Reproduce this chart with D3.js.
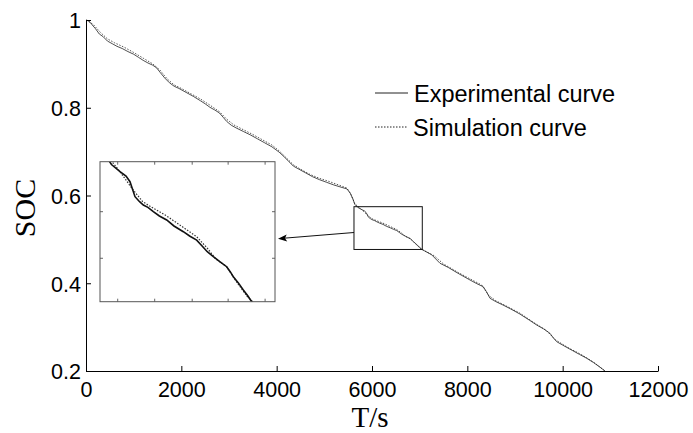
<!DOCTYPE html>
<html>
<head>
<meta charset="utf-8">
<script src="https://cdn.jsdelivr.net/npm/d3@7"></script>
<style>
  html, body { margin: 0; padding: 0; background: #fff; }
  svg { display: block; }
  text { font-family: "Liberation Sans", Arial, Helvetica, sans-serif; fill: #000; }
</style>
</head>
<body>
<svg id="chart" width="693" height="433"></svg>
<script>
// ---------------- data ----------------
const timeExp = [0, 60, 120, 200, 280, 360, 450, 550, 650, 760, 880, 1000, 1100, 1200, 1300, 1400, 1480, 1560, 1650, 1750,
  1850, 1950, 2100, 2250, 2400, 2500, 2600, 2700, 2800, 2880, 2950, 3050, 3150, 3300, 3450, 3600, 3750, 3900, 4050, 4150,
  4250, 4350, 4450, 4600, 4750, 4900, 5050, 5200, 5350, 5474, 5540, 5600, 5638, 5700, 5782, 5840, 5878, 5926, 5970, 6006,
  6050, 6102, 6160, 6230, 6300, 6390, 6450, 6518, 6570, 6620, 6678, 6740, 6806, 6840, 6870, 6920, 6966, 7010, 7046, 7100,
  7250, 7427, 7600, 7800, 8056, 8200, 8335, 8400, 8476, 8600, 8748, 8900, 9100, 9300, 9455, 9600, 9734, 9800, 9875, 10000,
  10200, 10350, 10504, 10650, 10780, 10888];
const socExp = [1.000, 0.998, 0.990, 0.980, 0.968, 0.962, 0.952, 0.946, 0.940, 0.935, 0.928, 0.922, 0.915, 0.908, 0.902, 0.897, 0.891, 0.880, 0.868, 0.857,
  0.849, 0.844, 0.835, 0.826, 0.816, 0.809, 0.801, 0.795, 0.788, 0.778, 0.769, 0.760, 0.754, 0.746, 0.738, 0.729, 0.720, 0.711, 0.699, 0.689,
  0.678, 0.667, 0.661, 0.652, 0.643, 0.636, 0.630, 0.624, 0.619, 0.615, 0.606, 0.592, 0.580, 0.573, 0.568, 0.565, 0.561, 0.5505, 0.547, 0.5447,
  0.543, 0.540, 0.537, 0.5342, 0.530, 0.526, 0.523, 0.5201, 0.516, 0.512, 0.5085, 0.505, 0.5015, 0.498, 0.4945, 0.490, 0.4852, 0.481, 0.477, 0.474,
  0.465, 0.4455, 0.436, 0.423, 0.4074, 0.399, 0.392, 0.381, 0.3657, 0.358, 0.3504, 0.342, 0.330, 0.316, 0.3048, 0.296, 0.2858, 0.276, 0.2668, 0.259,
  0.247, 0.238, 0.229, 0.219, 0.209, 0.200];

const timeSim = [0, 150, 300, 450, 600, 800, 1000, 1200, 1400, 1550, 1700, 1850, 2000, 2200, 2400, 2600, 2800, 2950, 3100, 3300,
  3500, 3700, 3900, 4050, 4200, 4350, 4500, 4700, 4900, 5100, 5300, 5474, 5560, 5640, 5782, 5900, 6000, 6100, 6230, 6390,
  6518, 6620, 6700, 6806, 6900, 7000, 7100, 7300, 7500, 7800, 8056, 8300, 8450, 8600, 8800, 9100, 9400, 9650, 9850, 10100,
  10400, 10650, 10888];
const socSim = [1.000, 0.990, 0.972, 0.957, 0.948, 0.938, 0.926, 0.913, 0.900, 0.886, 0.866, 0.852, 0.844, 0.832, 0.820, 0.806, 0.791, 0.774, 0.761, 0.750,
  0.739, 0.727, 0.715, 0.702, 0.686, 0.670, 0.660, 0.648, 0.639, 0.632, 0.624, 0.617, 0.602, 0.581, 0.568, 0.556, 0.547, 0.5425, 0.537, 0.529,
  0.5225, 0.5145, 0.507, 0.5015, 0.491, 0.481, 0.474, 0.463, 0.444, 0.425, 0.410, 0.396, 0.372, 0.360, 0.349, 0.332, 0.310, 0.293, 0.271, 0.254,
  0.237, 0.220, 0.200];

const xTickValues = [0, 2000, 4000, 6000, 8000, 10000, 12000];
const yTickValues = [0.2, 0.4, 0.6, 0.8, 1];
const yTickLabels = ["0.2", "0.4", "0.6", "0.8", "1"];

const zoomBoxT = [5622, 7055];
const zoomBoxSOC = [0.477, 0.5745];
const insetT = [5590, 7270];
const insetSOC = [0.477, 0.575];
const insetXTicks = [5760, 6115, 6475, 6820, 7175];
const insetYTicks = [0.5074, 0.540];

const legendLabels = ["Experimental curve", "Simulation curve"];
const xTitle = "T/s";
const yTitle = "SOC";

// ---------------- drawing ----------------
const svg = d3.select("#chart");
const x = d3.scaleLinear().domain([0, 12000]).range([86, 658]);
const y = d3.scaleLinear().domain([0.2, 1]).range([371, 20]);

const expPts = timeExp.map((t, i) => [t, socExp[i]]);
const simPts = timeSim.map((t, i) => [t, socSim[i]]);

// main curves
const line = d3.line().x(d => x(d[0])).y(d => y(d[1]));
svg.append("path").datum(simPts).attr("d", line)
  .attr("fill", "none").attr("stroke", "#555").attr("stroke-width", 1).attr("stroke-dasharray", "1.5,1.5");
svg.append("path").datum(expPts).attr("d", line)
  .attr("fill", "none").attr("stroke", "#222").attr("stroke-width", 0.8);

// axes
const xAxis = d3.axisBottom(x).tickValues(xTickValues).tickFormat(d3.format("d")).tickSizeInner(-5).tickSizeOuter(0);
const gx = svg.append("g").attr("transform", "translate(0,371)").call(xAxis);
gx.selectAll("text").attr("y", 25.5).attr("dy", 0).style("font-size", "21.5px");
const yAxis = d3.axisLeft(y).tickValues(yTickValues).tickFormat((d, i) => yTickLabels[i]).tickSizeInner(-5).tickSizeOuter(0);
const gy = svg.append("g").attr("transform", "translate(86,0)").call(yAxis);
gy.selectAll("text").attr("x", -5).attr("dy", "0.36em").style("font-size", "21.5px");
svg.selectAll(".domain, .tick line").attr("stroke", "#000");
svg.selectAll(".tick text").style("font-family", "'Liberation Sans', Arial, sans-serif");

// axis titles
svg.append("text").attr("x", 370).attr("y", 427).attr("text-anchor", "middle")
  .style("font-family", "'Liberation Serif', 'Times New Roman', serif").style("font-size", "29px").text(xTitle);
svg.append("text").attr("transform", "translate(35,208) rotate(-90)").attr("text-anchor", "middle")
  .style("font-family", "'Liberation Serif', 'Times New Roman', serif").style("font-size", "30px").text(yTitle);

// legend
const lg = svg.append("g");
lg.append("line").attr("x1", 375).attr("x2", 408).attr("y1", 93).attr("y2", 93).attr("stroke", "#222").attr("stroke-width", 1);
lg.append("text").attr("x", 414).attr("y", 101.5).style("font-size", "23.5px").text(legendLabels[0]);
lg.append("line").attr("x1", 375).attr("x2", 408).attr("y1", 127).attr("y2", 127).attr("stroke", "#222").attr("stroke-width", 1).attr("stroke-dasharray", "1.5,1.5");
lg.append("text").attr("x", 413).attr("y", 136).style("font-size", "23.5px").text(legendLabels[1]);

// zoom box on main plot
svg.append("rect")
  .attr("x", x(zoomBoxT[0])).attr("y", y(zoomBoxSOC[1]))
  .attr("width", x(zoomBoxT[1]) - x(zoomBoxT[0])).attr("height", y(zoomBoxSOC[0]) - y(zoomBoxSOC[1]))
  .attr("fill", "none").attr("stroke", "#111").attr("stroke-width", 1);

// inset
const inL = 100, inT = 161.7, inW = 175, inH = 140;
const ix = d3.scaleLinear().domain(insetT).range([inL, inL + inW]);
const iy = d3.scaleLinear().domain(insetSOC).range([inT + inH, inT]);
const defs = svg.append("defs");
defs.append("clipPath").attr("id", "insetClip").append("rect")
  .attr("x", inL).attr("y", inT).attr("width", inW).attr("height", inH);
svg.append("rect").attr("x", inL).attr("y", inT).attr("width", inW).attr("height", inH).attr("fill", "#fff");
const iline = d3.line().x(d => ix(d[0])).y(d => iy(d[1]));
const ig = svg.append("g").attr("clip-path", "url(#insetClip)");
ig.append("path").datum(simPts).attr("d", iline).attr("fill", "none").attr("stroke", "#333")
  .attr("stroke-width", 1.2).attr("stroke-dasharray", "1.5,1.5");
ig.append("path").datum(expPts).attr("d", iline).attr("fill", "none").attr("stroke", "#111").attr("stroke-width", 1.6);
// inset ticks
const itk = svg.append("g").attr("stroke", "#666").attr("stroke-width", 1);
insetXTicks.forEach(t => {
  itk.append("line").attr("x1", ix(t)).attr("x2", ix(t)).attr("y1", inT + inH).attr("y2", inT + inH - 3);
  itk.append("line").attr("x1", ix(t)).attr("x2", ix(t)).attr("y1", inT).attr("y2", inT + 3);
});
insetYTicks.forEach(v => {
  itk.append("line").attr("x1", inL).attr("x2", inL + 3).attr("y1", iy(v)).attr("y2", iy(v));
  itk.append("line").attr("x1", inL + inW).attr("x2", inL + inW - 3).attr("y1", iy(v)).attr("y2", iy(v));
});
svg.append("rect").attr("x", inL).attr("y", inT).attr("width", inW).attr("height", inH)
  .attr("fill", "none").attr("stroke", "#555").attr("stroke-width", 1);

// arrow from zoom box to inset
const ax0 = x(zoomBoxT[0]), ay0 = 232.5, ax1 = inL + inW + 3, ay1 = 238.7;
svg.append("line").attr("x1", ax0).attr("y1", ay0).attr("x2", ax1 + 6).attr("y2", ay1 - 0.5)
  .attr("stroke", "#111").attr("stroke-width", 1);
const ang = Math.atan2(ay0 - ay1, ax0 - ax1);
const hl = 9, hw = 3.5;
const bx = ax1 + hl * Math.cos(ang), by = ay1 + hl * Math.sin(ang);
svg.append("path")
  .attr("d", `M${ax1},${ay1} L${bx - hw * Math.sin(ang)},${by + hw * Math.cos(ang)} L${bx - 2 * Math.cos(ang)},${by - 2 * Math.sin(ang)} L${bx + hw * Math.sin(ang)},${by - hw * Math.cos(ang)} Z`)
  .attr("fill", "#000");
</script>
</body>
</html>
